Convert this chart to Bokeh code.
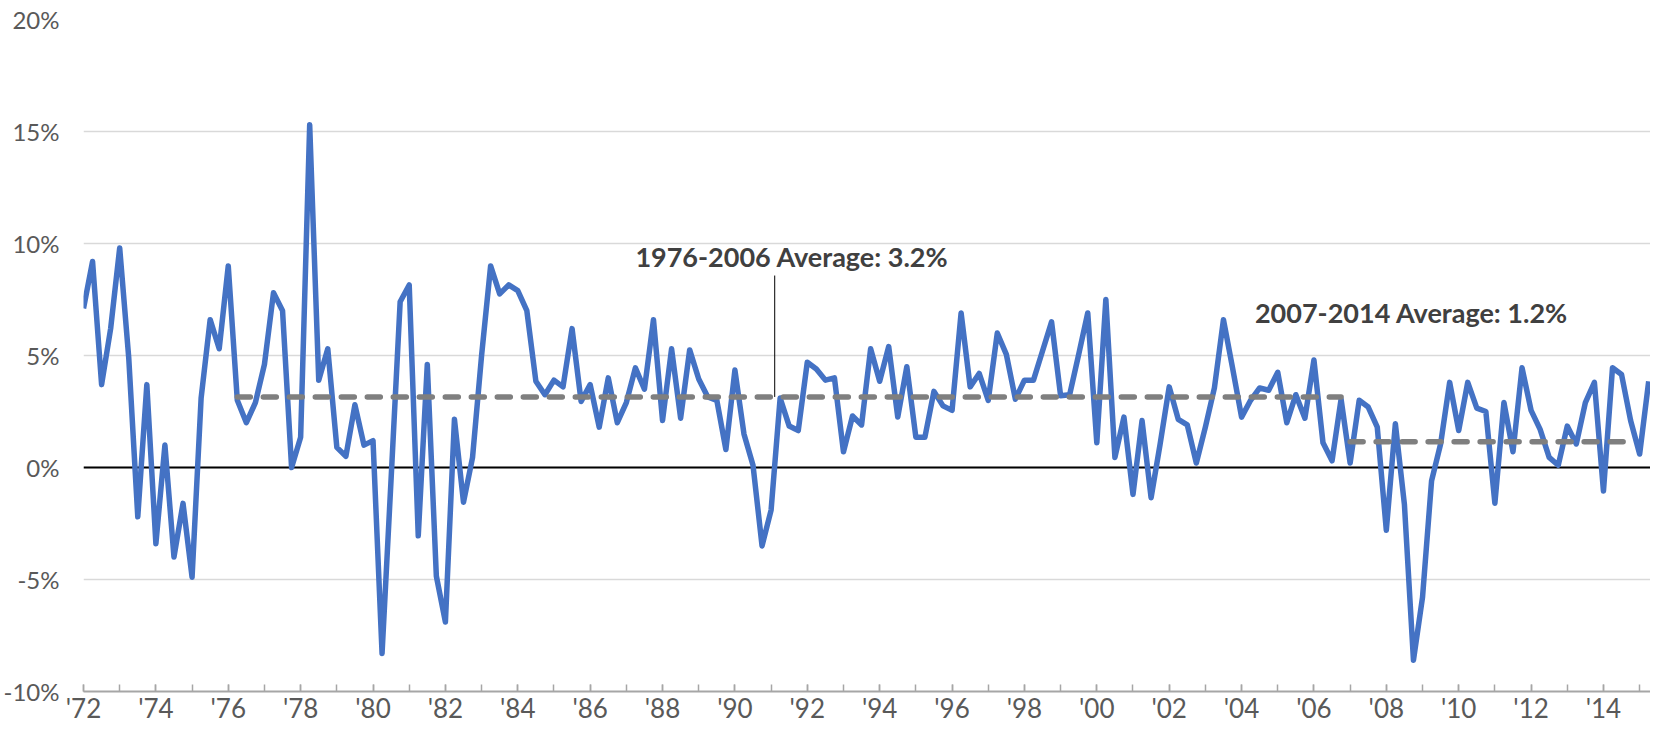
from bokeh.plotting import figure
from bokeh.models import FixedTicker, Span, ColumnDataSource
from bokeh.core.properties import value
from bokeh.embed import file_html
from bokeh.resources import INLINE

# ---- data (quarterly, 1972Q1 .. 2015Q2, % annualised) ----
start_year = 1972
growth = [
    7.1, 9.2, 3.7, 6.2, 9.8, 4.9, -2.2, 3.7, -3.4, 1.0, -4.0, -1.6,
    -4.9, 3.1, 6.6, 5.3, 9.0, 3.0, 2.0, 2.9, 4.6, 7.8, 7.0, 0.0,
    1.35, 15.3, 3.9, 5.3, 0.9, 0.5, 2.8, 1.0, 1.2, -8.3, -0.5, 7.4,
    8.15, -3.05, 4.6, -4.85, -6.9, 2.15, -1.55, 0.45, 5.0, 9.0, 7.75, 8.15,
    7.9, 7.0, 3.85, 3.25, 3.9, 3.6, 6.2, 2.95, 3.7, 1.8, 4.0, 2.0,
    2.9, 4.45, 3.5, 6.6, 2.1, 5.3, 2.2, 5.25, 3.95, 3.15, 3.0, 0.8,
    4.35, 1.5, 0.1, -3.5, -1.9, 3.1, 1.85, 1.65, 4.7, 4.4, 3.9, 4.0,
    0.7, 2.3, 1.9, 5.3, 3.85, 5.4, 2.25, 4.5, 1.35, 1.35, 3.4, 2.75,
    2.55, 6.9, 3.6, 4.2, 3.0, 6.0, 5.05, 3.05, 3.9, 3.9, 5.2, 6.5,
    3.2, 3.25, 5.05, 6.9, 1.1, 7.5, 0.45, 2.25, -1.2, 2.1, -1.35, 1.05,
    3.6, 2.15, 1.9, 0.2, 1.8, 3.55, 6.6, 4.45, 2.25, 3.0, 3.55, 3.45,
    4.25, 2.0, 3.25, 2.2, 4.8, 1.1, 0.3, 3.05, 0.2, 3.0, 2.7, 1.8,
    -2.8, 1.95, -1.65, -8.6, -5.8, -0.6, 1.05, 3.8, 1.65, 3.8, 2.65, 2.5,
    -1.6, 2.9, 0.7, 4.45, 2.55, 1.7, 0.45, 0.1, 1.85, 1.05, 2.9, 3.8,
    -1.05, 4.45, 4.15, 2.1, 0.6, 3.85,
]
years = [start_year + i / 4 for i in range(len(growth))]

# averages: (start, end, level)
avg1_x = [1976.25, 2006.75]
avg1_y = [3.15, 3.15]
avg2_x = [2007.0, 2014.75]
avg2_y = [1.15, 1.15]

ann_text = ["1976-2006 Average: 3.2%", "2007-2014 Average: 1.2%"]
ann_x = [1987.25, 2004.37]
ann_y = [9.4, 6.9]
leader_x = [1991.1]
leader_top = [8.57]
leader_bottom = [3.15]

x_major = list(range(1972, 2015, 2))
x_minor = list(range(1972, 2016))
x_labels = {y: "'" + str(y)[2:] for y in x_major}
y_ticks = [-10, -5, 0, 5, 10, 15, 20]
y_labels = {t: f"{t}%" for t in y_ticks}

FONT = "Lato"

p = figure(width=1650, height=726, output_backend="svg", toolbar_location=None,
           x_range=(1972, 2015.3), y_range=(-10, 20),
           min_border_left=77, min_border_right=0, min_border_top=19,
           min_border_bottom=34)
p.outline_line_color = None
p.background_fill_color = "white"
p.border_fill_color = "white"

# grid
p.xgrid.grid_line_color = None
p.ygrid.ticker = FixedTicker(ticks=[-5, 0, 5, 10, 15, 20])
p.ygrid.grid_line_color = "#d9d9d9"
p.ygrid.grid_line_width = 1.5

# x axis
xa = p.xaxis[0]
xa.ticker = FixedTicker(ticks=x_major, minor_ticks=x_minor)
xa.major_label_overrides = x_labels
xa.axis_line_color = "#a6a6a6"
xa.axis_line_width = 2
xa.major_tick_line_color = "#a6a6a6"
xa.minor_tick_line_color = "#a6a6a6"
xa.major_tick_line_width = 1.5
xa.minor_tick_line_width = 1.5
xa.major_tick_in = 7
xa.major_tick_out = 0
xa.minor_tick_in = 7
xa.minor_tick_out = 0
xa.major_label_standoff = 0
xa.major_label_text_font = FONT
xa.major_label_text_font_size = "26px"
xa.major_label_text_color = "#595959"

# y axis
ya = p.yaxis[0]
ya.ticker = FixedTicker(ticks=y_ticks)
ya.major_label_overrides = y_labels
ya.axis_line_color = None
ya.major_tick_line_color = None
ya.minor_tick_line_color = None
ya.major_tick_in = 0
ya.major_tick_out = 0
ya.major_label_standoff = 24
ya.major_label_text_font = FONT
ya.major_label_text_font_size = "24px"
ya.major_label_text_color = "#595959"

# zero line
p.add_layout(Span(location=0, dimension="width", line_color="black",
                  line_width=2, level="underlay"))

# main series
p.line(years, growth, line_color="#4472C4", line_width=5.5, line_join="round")

# average lines
for ax, ay in ((avg1_x, avg1_y), (avg2_x, avg2_y)):
    p.line(ax, ay, line_color="#7f7f7f", line_width=5.5, line_dash="13 13",
           line_cap="round")

# leader line
p.segment(x0=leader_x, y0=leader_top, x1=leader_x, y1=leader_bottom,
          line_color="black", line_width=1)

# annotations
src = ColumnDataSource(dict(x=ann_x, y=ann_y, t=ann_text))
p.text(x="x", y="y", text="t", source=src, text_font=value(FONT),
       text_font_style="bold", text_font_size="27px", text_color="#404040",
       text_align="left", text_baseline="alphabetic")

open("out.html", "w").write(file_html(p, INLINE))
